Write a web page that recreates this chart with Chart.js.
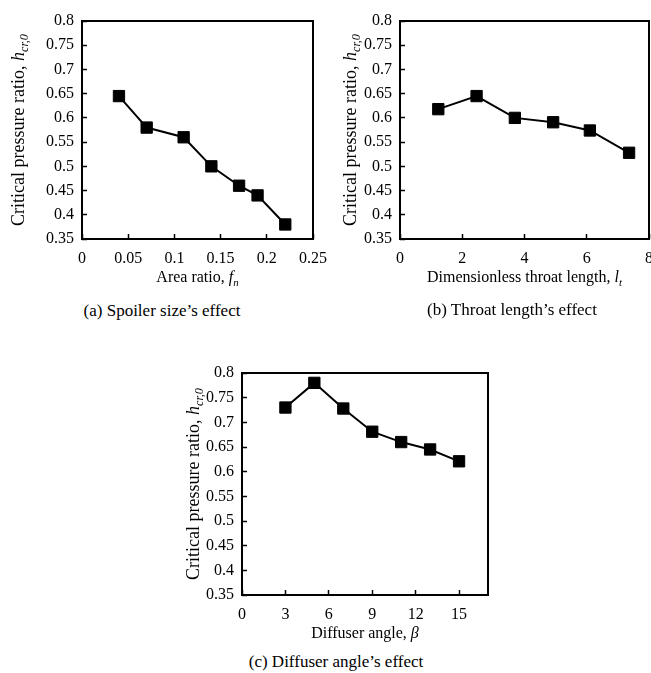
<!DOCTYPE html>
<html>
<head>
<meta charset="utf-8">
<script src="https://cdn.jsdelivr.net/npm/chart.js@4.4.1/dist/chart.umd.min.js"></script>
<style>
  html, body { margin: 0; padding: 0; background: #fff; }
  body { width: 651px; height: 673px; position: relative; overflow: hidden; }
  canvas { position: absolute; }
  .cap { position: absolute; font-family: 'Liberation Serif', serif; font-size: 17px;
         line-height: 22px; color: #000; text-align: center; white-space: nowrap; }
</style>
</head>
<body>
<canvas id="chartA" width="330" height="290" style="left:0px;top:0px"></canvas>
<canvas id="chartB" width="340" height="290" style="left:325px;top:0px"></canvas>
<canvas id="chartC" width="345" height="300" style="left:160px;top:350px"></canvas>
<div class="cap" style="left:0px;top:300px;width:324px">(a) Spoiler size’s effect</div>
<div class="cap" style="left:412px;top:299px;width:200px">(b) Throat length’s effect</div>
<div class="cap" style="left:236px;top:651px;width:200px">(c) Diffuser angle’s effect</div>
<script>
// (a) spoiler size
const areaRatio = [0.04, 0.07, 0.11, 0.14, 0.17, 0.19, 0.22];
const hcrA = [0.645, 0.58, 0.56, 0.50, 0.46, 0.44, 0.38];

// (b) throat length
const throatLength = [1.23, 2.46, 3.69, 4.92, 6.1, 7.36];
const hcrB = [0.618, 0.645, 0.60, 0.591, 0.574, 0.528];

// (c) diffuser angle
const diffuserAngle = [3, 5, 7, 9, 11, 13, 15];
const hcrC = [0.73, 0.78, 0.728, 0.681, 0.66, 0.645, 0.621];

const FONT = "'Liberation Serif', serif";

// y title shared by all three panels
const yTitle = [
  { t: 'Critical pressure ratio, ' },
  { t: 'h', i: true },
  { t: 'cr,0', i: true, sub: true }
];

function fontOf(p, size) {
  const s = p.sub ? size * 0.68 : size;
  return (p.i ? 'italic ' : '') + s + 'px ' + FONT;
}

// draw a line of text with italic / subscript parts, centred on cx
function drawRich(ctx, parts, cx, cy, size) {
  let total = 0;
  for (const p of parts) {
    ctx.font = fontOf(p, size);
    total += ctx.measureText(p.t).width;
  }
  let x = cx - total / 2;
  const base = cy + size * 0.33;
  ctx.textAlign = 'left';
  ctx.textBaseline = 'alphabetic';
  for (const p of parts) {
    ctx.font = fontOf(p, size);
    ctx.fillText(p.t, x, p.sub ? base + size * 0.22 : base);
    x += ctx.measureText(p.t).width;
  }
}

const frameAndTitles = {
  id: 'frameAndTitles',
  afterDraw(chart, args, opts) {
    const { ctx, chartArea: a } = chart;
    ctx.save();
    ctx.strokeStyle = '#000';
    ctx.lineWidth = 2;
    ctx.strokeRect(a.left, a.top, a.right - a.left, a.bottom - a.top);
    ctx.fillStyle = '#000';
    drawRich(ctx, opts.xTitle, (a.left + a.right) / 2, a.bottom + 38, 16);
    ctx.translate(opts.yTitleX, (a.top + a.bottom) / 2);
    ctx.rotate(-Math.PI / 2);
    drawRich(ctx, yTitle, 0, 0, 18);
    ctx.restore();
  }
};

function axisOpts(min, max, step, isX, fitSize) {
  return {
    type: 'linear',
    min: min,
    max: max,
    border: { display: false },
    grid: { drawOnChartArea: false, drawTicks: true, tickLength: -5, tickColor: '#000', tickWidth: 1.5 },
    ticks: {
      stepSize: step,
      padding: isX ? 15 : 13,
      color: '#000',
      font: { family: FONT, size: 16 },
      callback: v => String(+v.toFixed(2))
    },
    afterBuildTicks: axis => {
      axis.ticks = axis.ticks.filter(t => Math.abs(t.value / step - Math.round(t.value / step)) < 1e-6);
    },
    afterFit: scale => {
      // fixed plot box: ignore label overhang
      scale.paddingLeft = scale.paddingRight = 0;
      scale.paddingTop = scale.paddingBottom = 0;
      if (isX) scale.height = fitSize; else scale.width = fitSize;
    }
  };
}

function makeChart(id, xs, ys, xr, pad, yWidth, xHeight, xTitle, yTitleX) {
  const pts = xs.map((x, k) => ({ x: x, y: ys[k] }));
  return new Chart(document.getElementById(id), {
    type: 'scatter',
    data: {
      datasets: [{
        data: pts,
        showLine: true,
        borderColor: '#000',
        borderWidth: 2,
        backgroundColor: '#000',
        pointStyle: 'rect',
        pointRadius: 8,
        pointBorderWidth: 1,
        pointBorderColor: '#000',
        pointBackgroundColor: '#000'
      }]
    },
    options: {
      responsive: false,
      animation: false,
      devicePixelRatio: 1,
      layout: { padding: pad },
      plugins: {
        legend: { display: false },
        tooltip: { enabled: false },
        frameAndTitles: { xTitle: xTitle, yTitleX: yTitleX }
      },
      scales: {
        x: axisOpts(xr[0], xr[1], xr[2], true, xHeight),
        y: axisOpts(0.35, 0.8, 0.05, false, yWidth)
      }
    },
    plugins: [frameAndTitles]
  });
}

makeChart('chartA', areaRatio, hcrA, [0, 0.25, 0.05],
  { top: 21, right: 17, left: 0, bottom: 0 }, 82, 51,
  [{ t: 'Area ratio, ' }, { t: 'f', i: true }, { t: 'n', i: true, sub: true }], 18);

makeChart('chartB', throatLength, hcrB, [0, 8, 2],
  { top: 21, right: 16, left: 0, bottom: 0 }, 75, 51,
  [{ t: 'Dimensionless throat length, ' }, { t: 'l', i: true }, { t: 't', i: true, sub: true }], 25);

makeChart('chartC', diffuserAngle, hcrC, [0, 17, 3],
  { top: 23, right: 17, left: 0, bottom: 0 }, 82, 55,
  [{ t: 'Diffuser angle, ' }, { t: 'β', i: true }], 33);
</script>
</body>
</html>
